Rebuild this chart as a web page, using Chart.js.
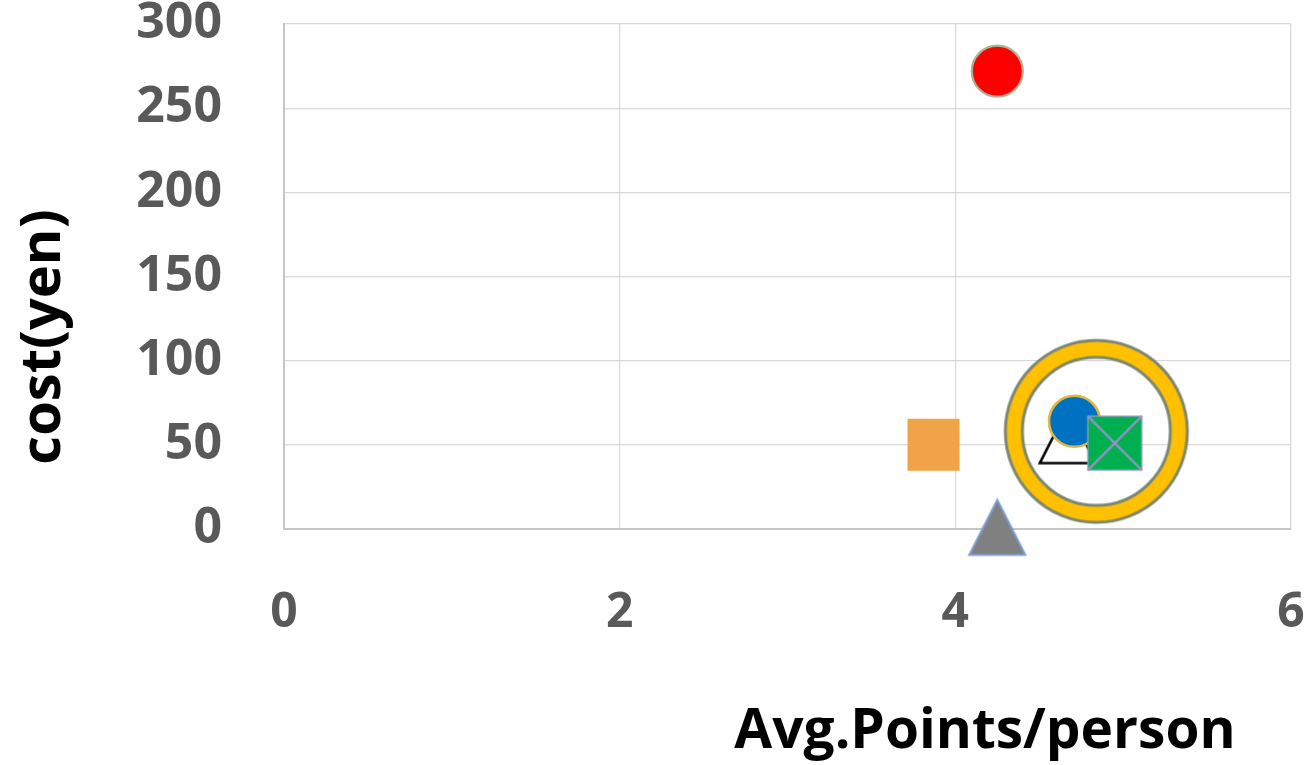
<!DOCTYPE html>
<html>
<head>
<meta charset="utf-8">
<script src="https://cdn.jsdelivr.net/npm/chart.js@4/dist/chart.umd.min.js"></script>
<style>
  html, body { margin: 0; padding: 0; background: #ffffff; }
  #wrap { width: 1311px; height: 765px; }
</style>
</head>
<body>
<div id="wrap"><canvas id="c" width="1311" height="765"></canvas></div>
<script>
// Series shown on the scatter (one point each)
const seriesNames = ['S1', 'S2', 'S3', 'S4', 'S5', 'S6', 'S7'];
const avgPoints   = [4.25, 3.87, 4.25, 4.84, 4.67, 4.71, 4.95];
const costYen     = [272,  50,   1,    58,   55.5, 64,   51];

// Axis ticks and titles
const xTicks = [0, 2, 4, 6];
const yTicks = [0, 50, 100, 150, 200, 250, 300];
const xTitle = 'Avg.Points/person';
const yTitle = 'cost(yen)';

// --- custom marker images -------------------------------------------------
function makeCanvas(w, h) {
  const c = document.createElement('canvas');
  c.width = w; c.height = h;
  return c;
}

function triangleMarker(fill, stroke, lw) {
  const c = makeCanvas(60, 60);
  const g = c.getContext('2d');
  g.beginPath();
  g.moveTo(30, 2.5);
  g.lineTo(58, 57.5);
  g.lineTo(2, 57.5);
  g.closePath();
  g.fillStyle = fill;
  g.fill();
  g.lineWidth = lw;
  g.strokeStyle = stroke;
  g.lineJoin = 'miter';
  g.stroke();
  return c;
}

function ringMarker() {
  const c = makeCanvas(194, 194);
  const g = c.getContext('2d');
  const cx = 97, cy = 97;
  g.beginPath();
  g.arc(cx, cy, 82.5, 0, Math.PI * 2);
  g.lineWidth = 17;
  g.strokeStyle = '#FFC000';
  g.stroke();
  g.strokeStyle = '#7d8770';
  g.lineWidth = 3;
  g.beginPath();
  g.arc(cx, cy, 91, 0, Math.PI * 2);
  g.stroke();
  g.beginPath();
  g.arc(cx, cy, 74, 0, Math.PI * 2);
  g.stroke();
  return c;
}

function crossSquareMarker() {
  const c = makeCanvas(58, 58);
  const g = c.getContext('2d');
  g.fillStyle = '#00B050';
  g.fillRect(2, 2, 54, 54);
  g.strokeStyle = '#a394cc';
  g.lineWidth = 1.2;
  g.strokeRect(2, 2, 54, 54);
  g.lineWidth = 2.4;
  g.strokeStyle = '#9d8fca';
  g.beginPath();
  g.moveTo(2, 2); g.lineTo(56, 56);
  g.moveTo(56, 2); g.lineTo(2, 56);
  g.stroke();
  return c;
}

const styles = [
  { pointStyle: 'circle', radius: 25.5, bg: '#FF0000', border: '#a9b495', bw: 2.2, order: 1 },
  { pointStyle: 'rect', radius: 36.8, bg: '#F0A347', border: '#F0A347', bw: 0, order: 1 },
  { pointStyle: triangleMarker('#808080', '#7d9dd2', 2), radius: 28, bg: '#808080', border: '#808080', bw: 0, order: 1 },
  { pointStyle: ringMarker(), radius: 90, bg: '#FFC000', border: '#FFC000', bw: 0, order: 5 },
  { pointStyle: triangleMarker('#ffffff', '#000000', 2.6), radius: 28, bg: '#ffffff', border: '#000000', bw: 0, order: 4 },
  { pointStyle: 'circle', radius: 25.5, bg: '#0070C0', border: '#DDB845', bw: 2.6, order: 3 },
  { pointStyle: crossSquareMarker(), radius: 28, bg: '#00B050', border: '#00B050', bw: 0, order: 2 }
];

const datasets = seriesNames.map((name, i) => ({
  label: name,
  data: [{ x: avgPoints[i], y: costYen[i] }],
  pointStyle: styles[i].pointStyle,
  pointRadius: styles[i].radius,
  pointHoverRadius: styles[i].radius,
  backgroundColor: styles[i].bg,
  borderColor: styles[i].border,
  pointBorderWidth: styles[i].bw,
  order: styles[i].order,
  clip: false
}));

// Axis titles placed relative to the plot area
const axisTitles = {
  id: 'axisTitles',
  afterDraw(chart) {
    const { ctx, chartArea } = chart;
    ctx.save();
    ctx.fillStyle = '#000000';
    ctx.font = 'bold 55px "Open Sans"';
    ctx.textAlign = 'center';
    ctx.textBaseline = 'alphabetic';
    ctx.fillText(xTitle, chartArea.right - 306, chartArea.bottom + 219);

    ctx.font = 'bold 56px "Open Sans"';
    ctx.translate(chartArea.left - 224, chartArea.top + 313);
    ctx.rotate(-Math.PI / 2);
    ctx.fillText(yTitle, 0, 0);
    ctx.restore();
  }
};

// Keep the plot edges fixed: no extra edge padding from the tick labels
function fixedBox(size, horizontal) {
  return function (scale) {
    if (horizontal) scale.height = size; else scale.width = size;
    scale.paddingTop = 0;
    scale.paddingBottom = 0;
    scale.paddingLeft = 0;
    scale.paddingRight = 0;
  };
}

new Chart(document.getElementById('c'), {
  type: 'scatter',
  data: { datasets },
  options: {
    responsive: false,
    animation: false,
    layout: { autoPadding: false, padding: { top: 24, right: 20, left: 0, bottom: 0 } },
    plugins: {
      legend: { display: false },
      tooltip: { enabled: false },
      title: { display: false }
    },
    scales: {
      x: {
        type: 'linear',
        min: 0,
        max: 6,
        afterBuildTicks(scale) { scale.ticks = xTicks.map(v => ({ value: v })); },
        afterFit: fixedBox(236, true),
        ticks: {
          color: '#595959',
          font: { family: 'Open Sans', size: 48, weight: 'bold', lineHeight: 1 },
          padding: 60,
          maxRotation: 0
        },
        grid: { color: '#d9d9d9', lineWidth: 1.3, drawTicks: false },
        border: { color: '#c6c6c6', width: 2 }
      },
      y: {
        type: 'linear',
        min: 0,
        max: 300,
        afterBuildTicks(scale) { scale.ticks = yTicks.map(v => ({ value: v })); },
        afterFit: fixedBox(284, false),
        ticks: {
          color: '#595959',
          font: { family: 'Open Sans', size: 50, weight: 'bold', lineHeight: 0.9 },
          padding: 62
        },
        grid: { color: '#d9d9d9', lineWidth: 1.3, drawTicks: false },
        border: { color: '#c6c6c6', width: 2 }
      }
    }
  },
  plugins: [axisTitles]
});
</script>
</body>
</html>
